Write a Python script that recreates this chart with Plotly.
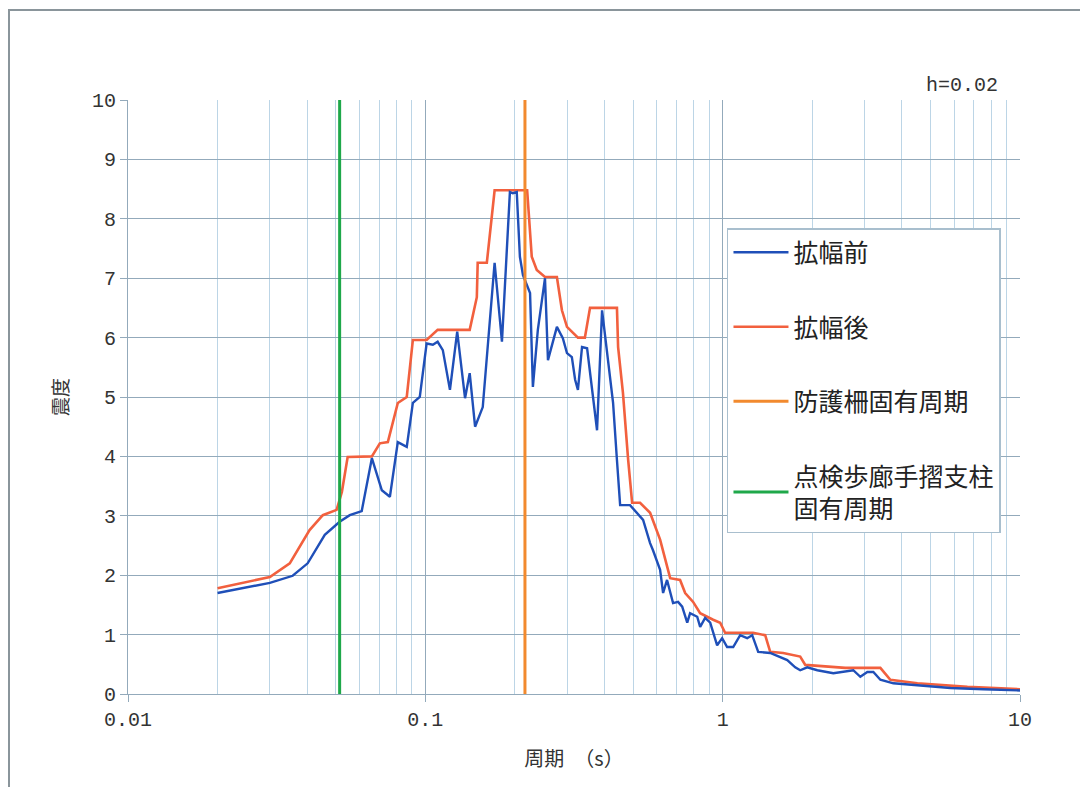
import plotly.graph_objects as go

# 拡幅前 (blue)
period_before = [0.0200, 0.0300, 0.0358, 0.0402, 0.0459, 0.0515, 0.0557, 0.0611, 0.0661, 0.0714,
                 0.0760, 0.0808, 0.0866, 0.0908, 0.0958, 0.101, 0.106, 0.110, 0.1145, 0.121,
                 0.128, 0.136, 0.141, 0.147, 0.156, 0.171, 0.181, 0.1925, 0.197, 0.203,
                 0.208, 0.213, 0.225, 0.230, 0.239, 0.2526, 0.2585, 0.277, 0.290, 0.2995,
                 0.311, 0.319, 0.326, 0.3365, 0.350, 0.378, 0.393, 0.408, 0.428, 0.441,
                 0.452, 0.488, 0.516, 0.540, 0.570, 0.583, 0.616, 0.6305, 0.650, 0.681,
                 0.708, 0.731, 0.760, 0.777, 0.821, 0.840, 0.873, 0.908, 0.958, 0.996,
                 1.035, 1.085, 1.145, 1.209, 1.257, 1.317, 1.445, 1.649, 1.754, 1.823,
                 1.925, 2.081, 2.356, 2.750, 2.904, 3.066, 3.212, 3.391, 3.751, 4.518,
                 5.834, 7.536, 10.0]
value_before = [1.70, 1.87, 1.99, 2.20, 2.68, 2.90, 3.01, 3.08, 3.97, 3.43,
                3.32, 4.24, 4.16, 4.90, 5.00, 5.90, 5.88, 5.93, 5.79, 5.12,
                6.10, 4.98, 5.40, 4.50, 4.83, 7.26, 5.93, 8.45, 8.43, 8.45,
                7.36, 7.05, 6.75, 5.17, 6.13, 7.00, 5.62, 6.18, 5.99, 5.74,
                5.67, 5.29, 5.12, 5.84, 5.82, 4.44, 6.46, 5.79, 4.90, 3.94,
                3.18, 3.18, 3.05, 2.93, 2.54, 2.42, 2.09, 1.70, 1.92, 1.53,
                1.55, 1.47, 1.20, 1.36, 1.30, 1.13, 1.28, 1.20, 0.82, 0.94,
                0.79, 0.79, 0.99, 0.94, 0.99, 0.71, 0.69, 0.57, 0.45, 0.40,
                0.45, 0.40, 0.35, 0.40, 0.29, 0.37, 0.37, 0.24, 0.18, 0.15,
                0.10, 0.08, 0.06]

# 拡幅後 (red)
period_after = [0.0200, 0.0300, 0.0350, 0.0408, 0.0452, 0.0503, 0.0524, 0.0548, 0.0661, 0.0703,
                0.0748, 0.0808, 0.0866, 0.0908, 0.101, 0.110, 0.141, 0.149, 0.150, 0.161,
                0.171, 0.220, 0.228, 0.237, 0.2526, 0.277, 0.288, 0.2995, 0.326, 0.344,
                0.358, 0.441, 0.445, 0.462, 0.481, 0.496, 0.5275, 0.570, 0.616, 0.666,
                0.719, 0.748, 0.7955, 0.840, 0.929, 0.981, 1.019, 1.266, 1.390, 1.445,
                1.598, 1.823, 1.896, 2.356, 2.585, 3.391, 3.664, 4.518, 6.656, 10.0]
value_after = [1.78, 1.97, 2.20, 2.76, 3.01, 3.10, 3.40, 3.99, 4.00, 4.22,
               4.24, 4.90, 5.00, 5.96, 5.96, 6.13, 6.13, 6.68, 7.26, 7.26,
               8.48, 8.48, 7.36, 7.14, 7.02, 7.02, 6.46, 6.18, 6.00, 6.00,
               6.50, 6.50, 5.84, 5.07, 3.94, 3.22, 3.22, 3.05, 2.60, 1.95,
               1.92, 1.70, 1.55, 1.36, 1.25, 1.20, 1.03, 1.03, 0.99, 0.71,
               0.69, 0.63, 0.49, 0.45, 0.44, 0.44, 0.24, 0.18, 0.12, 0.08]

# natural periods
guard_fence_period = 0.2163      # 防護柵固有周期
handrail_post_period = 0.0515    # 点検歩廊手摺支柱固有周期

x_tick_vals = [0.01, 0.1, 1, 10]
x_tick_text = ["0.01", "0.1", "1", "10"]
y_tick_vals = list(range(0, 11))

BLUE = "#1F4FB8"
RED = "#F2603E"
ORANGE = "#F28A2E"
GREEN = "#1FA84A"
GRID = "#93AABB"
MINOR = "#BCD5E6"
NUMFONT = "Liberation Mono, DejaVu Sans Mono, monospace"
CJK = "Noto Sans CJK JP, sans-serif"

fig = go.Figure()
fig.add_trace(go.Scatter(x=period_after, y=value_after, mode="lines", name="拡幅後",
                         line=dict(color=RED, width=2.6), legendgroup="b", legendrank=2))
fig.add_trace(go.Scatter(x=period_before, y=value_before, mode="lines", name="拡幅前",
                         line=dict(color=BLUE, width=2.4), legendgroup="a", legendrank=1))
fig.add_trace(go.Scatter(x=[guard_fence_period, guard_fence_period], y=[0, 10], mode="lines",
                         name="防護柵固有周期", line=dict(color=ORANGE, width=3),
                         legendgroup="c", legendrank=3))
fig.add_trace(go.Scatter(x=[handrail_post_period, handrail_post_period], y=[0, 10], mode="lines",
                         name="点検歩廊手摺支柱<br>固有周期", line=dict(color=GREEN, width=3),
                         legendgroup="d", legendrank=4))

fig.update_layout(
    width=1088, height=787,
    margin=dict(l=120, r=76, t=92, b=101),
    paper_bgcolor="white", plot_bgcolor="white",
    showlegend=True,
    legend=dict(x=0.6715, y=0.7845, xanchor="left", yanchor="top",
                bgcolor="white", bordercolor="#A9BFCE", borderwidth=1.5,
                font=dict(family=CJK, size=25, color="#222"),
                tracegroupgap=39, itemwidth=55,
                traceorder="grouped"),
    font=dict(family=CJK, color="#333"),
)

fig.update_xaxes(type="log", range=[-2, 1],
                 tickvals=x_tick_vals, ticktext=x_tick_text,
                 tickfont=dict(family=NUMFONT, size=20, color="#333"),
                 showgrid=True, gridcolor=GRID, gridwidth=1.2,
                 minor=dict(dtick="D1", showgrid=True, gridcolor=MINOR, gridwidth=1, ticks=""),
                 showline=True, linecolor=GRID, linewidth=1.2,
                 ticks="outside", ticklen=7, tickcolor=GRID,
                 zeroline=False,
                 title=dict(text="周期　（s）", font=dict(family=CJK, size=20, color="#333"), standoff=20))
fig.update_yaxes(range=[0, 10], tickvals=y_tick_vals,
                 tickfont=dict(family=NUMFONT, size=20, color="#333"),
                 showgrid=True, gridcolor=GRID, gridwidth=1.2,
                 showline=True, linecolor=GRID, linewidth=1.2,
                 ticks="outside", ticklen=7, tickcolor=GRID,
                 zeroline=False,
                 title=dict(text="震度", font=dict(family=CJK, size=19, color="#333"), standoff=18))

fig.add_annotation(text="h=0.02", xref="paper", yref="paper", x=0.9776, y=1.025,
                   xanchor="right", yanchor="middle", showarrow=False,
                   font=dict(family=NUMFONT, size=20, color="#333"))

# outer frame (top and left edges visible)
fig.add_shape(type="rect", xref="paper", yref="paper",
              x0=-0.1334, x1=1.2, y0=-0.3, y1=1.1515,
              line=dict(color="#8A959B", width=2), fillcolor="rgba(0,0,0,0)", layer="below")

fig.write_html("out.html")
